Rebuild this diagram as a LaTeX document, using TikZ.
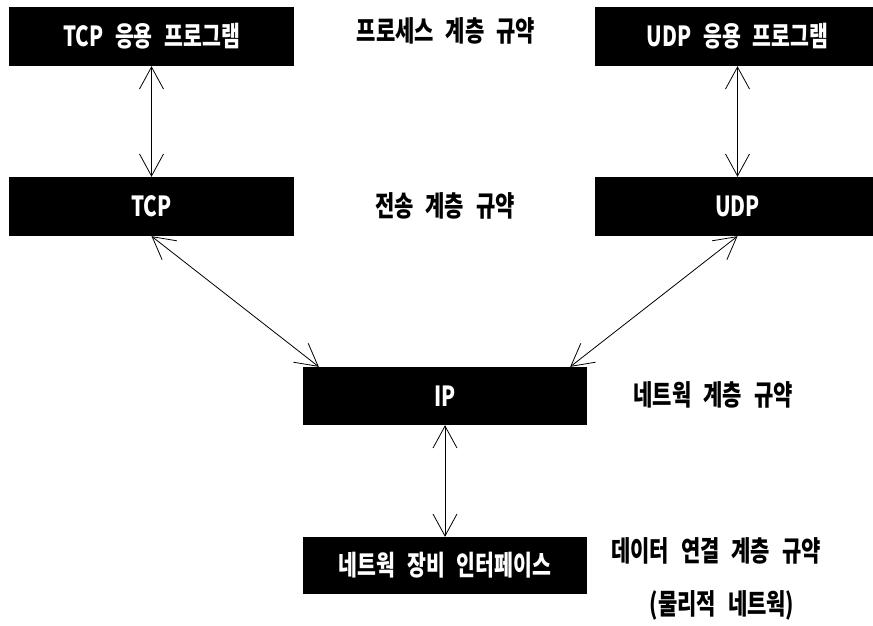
\documentclass[tikz,border=0pt]{standalone}
\usepackage{fontspec}
\newfontfamily\kfont{Noto Sans CJK KR}[WordSpace=2.5]
\usetikzlibrary{arrows.meta}
\newcommand{\tallt}[1]{\scalebox{1}[1.35]{#1}}
\tikzset{
  layerbox/.style={fill=black, text=white, inner sep=0pt,
    minimum width=285pt, minimum height=59pt,
    font=\kfont\bfseries\fontsize{20.5}{20.5}\selectfont},
  layerlabel/.style={text=black, inner sep=0pt,
    font=\kfont\bfseries\fontsize{21}{21}\selectfont},
  link/.style={line width=0.8pt, {Straight Barb[length=22pt,width=24pt]}-{Straight Barb[length=22pt,width=24pt]}}
}
\begin{document}
\begin{tikzpicture}[x=1pt,y=-1pt]
  \useasboundingbox[fill=white] (0,0) rectangle (873,626);
  % protocol boxes
  \node[layerbox] (tcpapp) at (151.5,36.5) {\tallt{TCP 응용 프로그램}};
  \node[layerbox] (udpapp) at (737.5,36.5) {\tallt{UDP 응용 프로그램}};
  \node[layerbox] (tcp) at (151.5,206.5) {\tallt{TCP}};
  \node[layerbox] (udp) at (737.5,206.5) {\tallt{UDP}};
  \node[layerbox, minimum width=284pt, minimum height=58pt] (ip) at (445,396) {\tallt{IP}};
  \node[layerbox, minimum width=284pt, minimum height=57pt] (dev) at (445,565.5) {\tallt{네트웍 장비 인터페이스}};
  % layer names
  \node[layerlabel] (l1) at (446,31) {\tallt{프로세스 계층 규약}};
  \node[layerlabel] (l2) at (445,206) {\tallt{전송 계층 규약}};
  \node[layerlabel] (l3) at (713,395) {\tallt{네트웍 계층 규약}};
  \node[layerlabel] (l4) at (716,551) {\tallt{데이터 연결 계층 규약}};
  \node[layerlabel] (l5) at (722,605) {\tallt{(물리적 네트웍)}};
  % connections
  \draw[link] (tcpapp.south) -- (tcp.north);
  \draw[link] (udpapp.south) -- (udp.north);
  \draw[link] (tcp.south) -- ([xshift=16pt]ip.north west);
  \draw[link] (udp.south) -- ([xshift=-17pt]ip.north east);
  \draw[link] (ip.south) -- (dev.north);
\end{tikzpicture}
\end{document}
